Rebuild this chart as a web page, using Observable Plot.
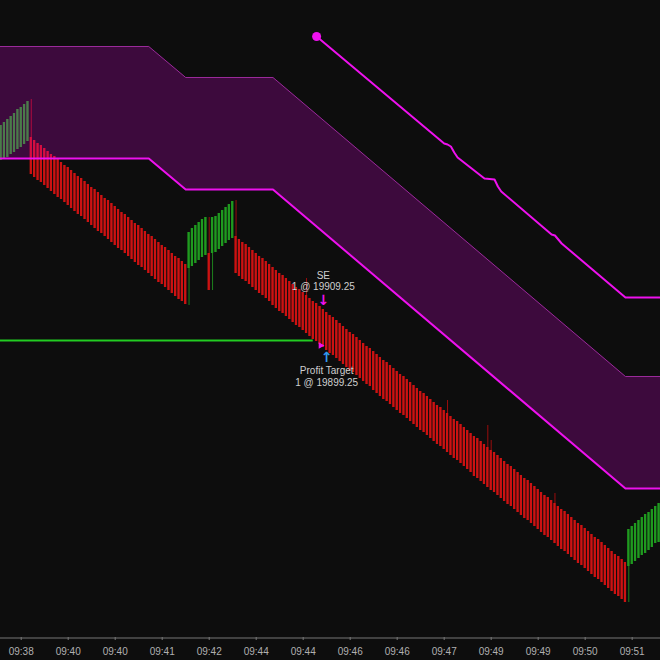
<!DOCTYPE html>
<html><head><meta charset="utf-8">
<script src="https://cdn.jsdelivr.net/npm/d3@7"></script>
<script src="https://cdn.jsdelivr.net/npm/@observablehq/plot@0.6"></script>
<style>
html,body{margin:0;padding:0;background:#0d0d0d;}
#chart{width:660px;height:660px;overflow:hidden;}
</style></head><body><div id="chart"></div>
<script>
// Bar opens / closes by bar index (0..196)
const opens = [
  19944.25, 19944.75, 19945.00, 19945.75, 19946.25, 19947.00, 19947.50, 19948.25, 19949.00,
  19950.00, 19949.25, 19948.50, 19948.00, 19947.25, 19946.50, 19945.75, 19945.25, 19944.50, 19943.75,
  19943.00, 19942.50, 19941.75, 19941.00, 19940.25, 19939.75, 19939.00, 19938.25, 19937.50, 19937.00,
  19936.25, 19935.50, 19934.75, 19934.25, 19933.50, 19932.75, 19932.00, 19931.25, 19930.75, 19930.00,
  19929.25, 19928.50, 19928.00, 19927.25, 19926.50, 19925.75, 19925.25, 19924.50, 19923.75, 19923.00,
  19922.50, 19921.75, 19921.00, 19920.25, 19919.75, 19919.00, 19918.25,
  19917.25, 19917.75, 19918.50, 19919.25, 19920.00, 19920.50, 19921.00, 19921.00, 19921.25, 19922.00,
  19922.75, 19923.50, 19924.25, 19924.75,
  19925.25, 19924.50, 19923.75, 19923.25, 19922.50, 19921.75, 19921.00, 19920.25, 19919.75, 19919.00,
  19918.25, 19917.50, 19916.75, 19916.00, 19915.50, 19914.75, 19914.00, 19913.25, 19912.50, 19912.00,
  19911.25, 19910.50, 19909.75, 19909.00, 19908.50, 19907.75, 19907.00, 19906.25, 19905.50, 19905.00,
  19904.25, 19903.50, 19902.75, 19902.00, 19901.25, 19900.75, 19900.00, 19899.25, 19898.50, 19897.75,
  19897.25, 19896.50, 19895.75, 19895.00, 19894.25, 19893.75, 19893.00, 19892.25, 19891.50, 19890.75,
  19890.25, 19889.50, 19888.75, 19888.00, 19887.25, 19886.50, 19886.00, 19885.25, 19884.50, 19883.75,
  19883.00, 19882.50, 19881.75, 19881.00, 19880.25, 19879.50, 19879.00, 19878.25, 19877.50, 19876.75,
  19876.00, 19875.25, 19874.75, 19874.00, 19873.25, 19872.50, 19871.75, 19871.25, 19870.50, 19869.75,
  19869.00, 19868.25, 19867.75, 19867.00, 19866.25, 19865.50, 19864.75, 19864.25, 19863.50, 19862.75,
  19862.00, 19861.25, 19860.50, 19860.00, 19859.25, 19858.50, 19857.75, 19857.00, 19856.50, 19855.75,
  19855.00, 19854.25, 19853.50, 19853.00, 19852.25, 19851.50, 19850.75, 19850.00, 19849.50, 19848.75,
  19848.00, 19847.25, 19846.50, 19845.75, 19845.25, 19844.50, 19843.75,
  19842.75, 19843.25, 19844.00, 19844.75, 19845.50, 19846.00, 19846.75, 19847.50, 19848.50, 19848.75
];
const closes = [
  19953.00, 19953.75, 19954.50, 19955.25, 19956.00, 19957.00, 19957.50, 19958.25, 19959.00,
  19940.75, 19940.00, 19939.25, 19938.75, 19938.00, 19937.25, 19936.50, 19935.75, 19935.00, 19934.50,
  19933.75, 19933.00, 19932.25, 19931.50, 19930.75, 19930.25, 19929.50, 19928.75, 19928.00, 19927.25,
  19926.50, 19926.00, 19925.25, 19924.50, 19923.75, 19923.00, 19922.25, 19921.75, 19921.00, 19920.25,
  19919.50, 19918.75, 19918.00, 19917.50, 19916.75, 19916.00, 19915.25, 19914.50, 19913.75, 19913.25,
  19912.50, 19911.75, 19911.00, 19910.25, 19909.50, 19909.00, 19908.25,
  19926.25, 19927.25, 19928.00, 19928.75, 19929.50, 19930.00, 19911.75, 19930.00, 19930.25, 19931.00,
  19931.75, 19932.50, 19933.25, 19934.00,
  19916.00, 19915.25, 19914.50, 19914.00, 19913.25, 19912.50, 19911.75, 19911.00, 19910.50, 19909.75,
  19909.00, 19908.00, 19907.25, 19906.50, 19906.00, 19905.25, 19904.50, 19903.75, 19903.00, 19902.50,
  19901.75, 19901.00, 19900.25, 19899.50, 19899.00, 19898.25, 19897.50, 19896.75, 19896.00, 19895.50,
  19894.75, 19894.00, 19893.25, 19892.50, 19891.75, 19891.25, 19890.50, 19889.75, 19889.00, 19888.25,
  19887.75, 19886.75, 19886.00, 19885.25, 19884.50, 19884.00, 19883.25, 19882.50, 19881.75, 19881.00,
  19880.50, 19879.75, 19879.00, 19878.25, 19877.50, 19876.75, 19876.25, 19875.50, 19874.75, 19874.00,
  19873.25, 19872.75, 19872.00, 19871.25, 19870.50, 19869.75, 19869.25, 19868.50, 19867.75, 19867.00,
  19866.25, 19865.25, 19864.75, 19864.00, 19863.25, 19862.50, 19861.75, 19861.25, 19860.50, 19859.75,
  19859.00, 19858.25, 19857.75, 19857.00, 19856.25, 19855.50, 19854.75, 19854.25, 19853.50, 19852.75,
  19852.00, 19851.25, 19850.50, 19850.00, 19849.25, 19848.50, 19847.75, 19847.00, 19846.50, 19845.75,
  19845.00, 19844.25, 19843.50, 19843.00, 19842.25, 19841.50, 19840.75, 19840.00, 19839.50, 19838.75,
  19838.00, 19837.25, 19836.50, 19835.75, 19835.25, 19834.50, 19833.75,
  19852.00, 19852.75, 19853.50, 19854.25, 19855.00, 19855.75, 19856.25, 19857.00, 19857.75, 19858.50
];
// Wick extremes beyond the body: [bar index, price]
const wickHighs = [[9, 19959.50], [62, 19930.00], [70, 19934.25], [91, 19914.75], [133, 19884.25], [145, 19878.00], [146, 19874.25], [165, 19861.00]];
const wickLows = [[56, 19908.00], [63, 19911.75], [187, 19833.75]];

// Channel band (bar index breakpoints)
const bandIdx = [-1, 44, 55, 81, 186, 198];
const bandLower = [19944.75, 19944.75, 19937.00, 19937.00, 19862.25, 19862.25];
const bandUpper = [19972.75, 19972.75, 19965.00, 19965.00, 19890.25, 19890.25];

// Trailing stop line
const stopIdx = [94, 132, 133, 134, 135, 136, 144, 147, 148, 149, 164, 165, 167, 186, 198];
const stopPrice = [19975.25, 19948.50, 19948.25, 19947.75, 19946.25, 19945.00, 19939.75, 19939.50, 19937.75, 19936.50, 19925.75, 19925.50, 19923.50, 19910.00, 19910.00];

// Profit target line and trade markers
const targetPrice = 19899.25;
const targetEndIdx = 93;
const entry = {i: 96, p: 19909.25, name: "SE", label: "1 @ 19909.25"};
const exit = {i: 97, p: 19899.25, name: "Profit Target", label: "1 @ 19899.25"};
const fillMark = {i: 95.2, p: 19898.0};

// X axis ticks (bar index) and labels
const tickIdx = [6, 20, 34, 48, 62, 76, 90, 104, 118, 132, 146, 160, 174, 188];
const tickLabels = ["09:38", "09:40", "09:40", "09:41", "09:42", "09:44", "09:44", "09:46", "09:46", "09:47", "09:49", "09:49", "09:50", "09:51"];

const hiMap = new Map(wickHighs), loMap = new Map(wickLows);
const bars = opens.map((o, i) => {
  const c = closes[i];
  return {i, open: o, close: c, up: c > o,
    high: Math.max(o, c, hiMap.has(i) ? hiMap.get(i) : -Infinity),
    low: Math.min(o, c, loMap.has(i) ? loMap.get(i) : Infinity)};
});
const upBars = bars.filter(d => d.up), downBars = bars.filter(d => !d.up);
const band = bandIdx.map((i, k) => ({i, lower: bandLower[k], upper: bandUpper[k]}));
const stop = stopIdx.map((i, k) => ({i, p: stopPrice[k]}));
const labelMap = new Map(tickIdx.map((t, k) => [t, tickLabels[k]]));
const font = "'Liberation Sans', Arial, sans-serif";
const txt = "#cfcfcf";

const chart = Plot.plot({
  width: 660, height: 660,
  marginTop: 0, marginRight: 0, marginBottom: 23, marginLeft: 0,
  style: {background: "#0d0d0d", color: "#b0b0b0", fontFamily: font, fontSize: "10px"},
  x: {domain: [-0.167, 196.44], axis: null, label: null},
  y: {domain: [19825, 19984.25], axis: null, label: null},
  marks: [
    Plot.ruleX(downBars, {x: "i", y1: "low", y2: "high", stroke: "#9a0d0d", strokeWidth: 1}),
    Plot.ruleX(upBars, {x: "i", y1: "low", y2: "high", stroke: "#1d801d", strokeWidth: 1}),
    Plot.rect(downBars, {x1: d => d.i - 0.34, x2: d => d.i + 0.34, y1: "open", y2: "close", fill: "#cc1212"}),
    Plot.rect(upBars, {x1: d => d.i - 0.34, x2: d => d.i + 0.34, y1: "open", y2: "close", fill: "#1f9a1f"}),
    Plot.areaY(band, {x: "i", y1: "lower", y2: "upper", fill: "#ff00ff", fillOpacity: 0.2, clip: true}),
    Plot.lineY(band, {x: "i", y: "upper", stroke: "#9a2a9a", strokeWidth: 1, clip: true}),
    Plot.lineY(band, {x: "i", y: "lower", stroke: "#ee11ee", strokeWidth: 2, clip: true}),
    Plot.lineY(stop, {x: "i", y: "p", stroke: "#ee11ee", strokeWidth: 2, clip: true}),
    Plot.dot(stop.slice(0, 1), {x: "i", y: "p", r: 4.5, fill: "#ee11ee"}),
    Plot.ruleY([targetPrice], {x1: -1, x2: targetEndIdx, stroke: "#22cc22", strokeWidth: 2}),
    Plot.dot([fillMark], {x: "i", y: "p", symbol: "triangle", r: 2.5, fill: "#ee11ee", rotate: 90}),
    Plot.text([entry], {x: "i", y: "p", text: "name", dy: -25, fill: txt, fontSize: 10, fontFamily: font}),
    Plot.text([entry], {x: "i", y: "p", text: "label", dy: -13.5, fill: txt, fontSize: 10, fontFamily: font}),
    Plot.text([entry], {x: "i", y: "p", text: d => "\u2193", dy: 0, fill: "#ee11ee", fontSize: 14, fontWeight: "bold", fontFamily: "DejaVu Sans"}),
    Plot.text([exit], {x: "i", y: "p", text: d => "\u2191", dy: 17, fill: "#3399ee", fontSize: 14, fontWeight: "bold", fontFamily: "DejaVu Sans"}),
    Plot.text([exit], {x: "i", y: "p", text: "name", dy: 30.5, fill: txt, fontSize: 10, fontFamily: font}),
    Plot.text([exit], {x: "i", y: "p", text: "label", dy: 42, fill: txt, fontSize: 10, fontFamily: font}),
    Plot.ruleY([19825], {stroke: "#777777", strokeWidth: 1, dy: 0.5}),
    Plot.axisX({ticks: tickIdx, tickFormat: d => labelMap.get(d), tickSize: 3, tickPadding: 7, stroke: "#777777", fill: "#b0b0b0", fontSize: 10, fontFamily: font, anchor: "bottom", label: null})
  ]
});
document.getElementById("chart").appendChild(chart);
</script>
</body></html>
